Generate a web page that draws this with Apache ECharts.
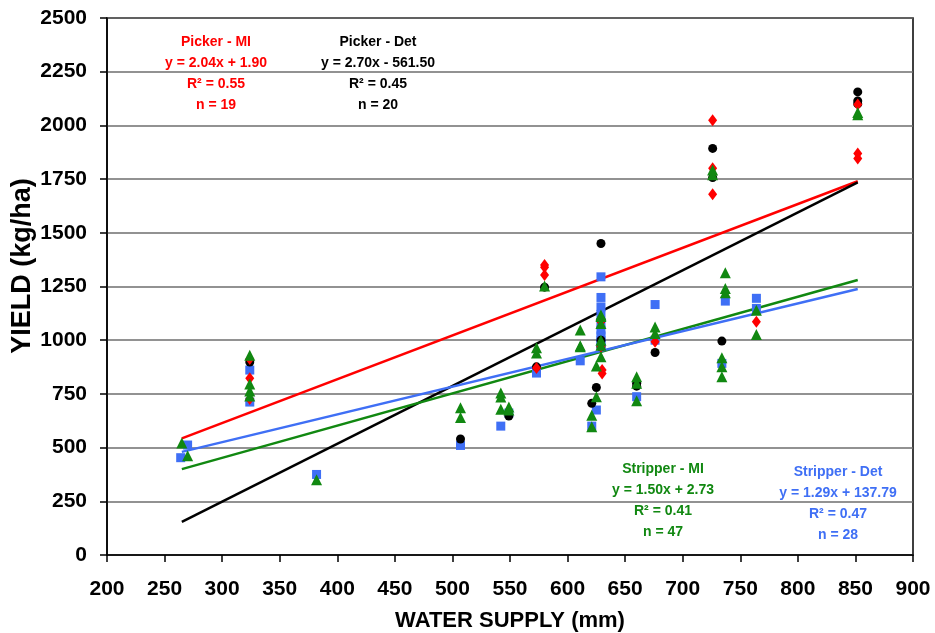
<!DOCTYPE html>
<html>
<head>
<meta charset="utf-8">
<script src="https://cdn.jsdelivr.net/npm/echarts@6/dist/echarts.min.js"></script>
<style>
  html, body { margin: 0; padding: 0; background: #fff; }
  #main { width: 935px; height: 633px; }
</style>
</head>
<body>
<div id="main"></div>
<script>
var chartDom = document.getElementById('main');
var myChart = echarts.init(chartDom);
var option;

var FONT = 'Liberation Sans, Arial, sans-serif';

// [water supply (mm), yield (kg/ha)]
var pickerMI = [
  [324, 912], [324, 823], [324, 726],
  [580, 1350], [580, 1340], [580, 1303],
  [629, 1086], [630, 861], [630, 845],
  [676, 993],
  [726, 2024], [726, 1800], [726, 1680],
  [764, 1086],
  [852, 2097], [852, 1869], [852, 1846],
  [573, 870], [629, 970]
];
var pickerDet = [
  [324, 898], [507, 540], [549, 647], [573, 876], [580, 1247],
  [621, 706], [625, 780], [629, 1450], [629, 1094], [629, 969],
  [660, 786], [676, 943], [726, 1893], [726, 1757], [734, 996],
  [852, 2156], [852, 2114], [852, 2100], [629, 1000], [660, 800]
];
var stripperMI = [
  [265, 521], [270, 462],
  [324, 930], [324, 796], [324, 763], [324, 740],
  [382, 350],
  [507, 686], [507, 640],
  [542, 754], [542, 735], [542, 679],
  [549, 689], [549, 675],
  [573, 965], [573, 940],
  [580, 1252],
  [611, 1047], [611, 974], [611, 969],
  [621, 651], [621, 597],
  [625, 737], [625, 880],
  [629, 1117], [629, 1078], [629, 1110], [629, 1000], [629, 977], [629, 923],
  [660, 830], [660, 799], [660, 718],
  [676, 1062], [676, 1031],
  [726, 1792], [726, 1770],
  [734, 918], [734, 876], [734, 830],
  [737, 1314], [737, 1241], [737, 1221],
  [764, 1140], [764, 1027],
  [852, 2060], [852, 2050]
];
var stripperDet = [
  [264, 453], [270, 512],
  [324, 861], [324, 712],
  [382, 375],
  [507, 510],
  [542, 600],
  [549, 661],
  [573, 847],
  [611, 904],
  [621, 600],
  [625, 675],
  [629, 1295], [629, 1199], [629, 1155], [629, 1120], [629, 1080],
  [629, 1047], [629, 1020], [629, 1000], [629, 980],
  [660, 737],
  [676, 1166], [676, 1000],
  [734, 892],
  [737, 1182],
  [764, 1195], [764, 1148]
];

// trend line end points
var trendPickerMI = [[265, 543], [852, 1740]];
var trendPickerDet = [[265, 154], [852, 1735]];
var trendStripperMI = [[265, 400], [852, 1280]];
var trendStripperDet = [[265, 480], [852, 1238]];

var RED = '#ff0000';
var BLACK = '#000000';
var GREEN = '#118811';
var BLUE = '#3f6ff5';

var pickerMIText = ['Picker - MI', 'y = 2.04x + 1.90', 'R² = 0.55', 'n = 19'];
var pickerDetText = ['Picker - Det', 'y = 2.70x - 561.50', 'R² = 0.45', 'n = 20'];
var stripperMIText = ['Stripper - MI', 'y = 1.50x + 2.73', 'R² = 0.41', 'n = 47'];
var stripperDetText = ['Stripper - Det', 'y = 1.29x + 137.79', 'R² = 0.47', 'n = 28'];

function textBlock(lines, cx, top, color) {
  return {
    type: 'text',
    x: cx,
    y: top,
    style: {
      text: lines.join('\n'),
      fill: color,
      font: 'bold 14px ' + FONT,
      lineHeight: 21,
      align: 'center',
      verticalAlign: 'top'
    },
    z: 100
  };
}

function trend(data, color) {
  return {
    type: 'line',
    data: data,
    symbol: 'none',
    silent: true,
    lineStyle: { color: color, width: 2.5 },
    z: 1
  };
}

function scatter(data, symbol, size, color, z) {
  return {
    type: 'scatter',
    data: data,
    symbol: symbol,
    symbolSize: size,
    itemStyle: { color: color, opacity: 1 },
    z: z
  };
}

option = {
  backgroundColor: '#fff',
  animation: false,
  grid: {
    left: 107,
    right: 22,
    top: 18,
    bottom: 78,
    containLabel: false,
    outerBoundsMode: 'none',
    show: true,
    borderColor: '#000',
    borderWidth: 1.5
  },
  xAxis: {
    type: 'value',
    min: 200,
    max: 900,
    interval: 50,
    name: 'WATER SUPPLY (mm)',
    nameLocation: 'middle',
    nameGap: 55,
    nameTextStyle: { fontFamily: FONT, fontWeight: 'bold', fontSize: 22, color: '#000' },
    axisLine: { show: true, lineStyle: { color: '#000', width: 1.5 } },
    axisTick: { show: true, length: 7, lineStyle: { color: '#000', width: 1.5 } },
    axisLabel: {
      fontFamily: FONT, fontWeight: 'bold', fontSize: 21, color: '#000', margin: 24,
      formatter: function (v) { return String(v); }
    },
    splitLine: { show: false }
  },
  yAxis: {
    type: 'value',
    min: 0,
    max: 2500,
    interval: 250,
    axisLine: { show: true, lineStyle: { color: '#000', width: 1.5 } },
    axisTick: { show: true, length: 7, lineStyle: { color: '#000', width: 1.5 } },
    axisLabel: {
      fontFamily: FONT, fontWeight: 'bold', fontSize: 21, color: '#000', margin: 20,
      formatter: function (v) { return String(v); }
    },
    splitLine: { show: true, lineStyle: { color: '#6e6e6e', width: 1.5 } }
  },
  graphic: [
    {
      type: 'text',
      x: 23,
      y: 266,
      rotation: Math.PI / 2,
      style: {
        text: 'YIELD (kg/ha)',
        fill: '#000',
        font: 'bold 27px ' + FONT,
        align: 'center',
        verticalAlign: 'middle'
      }
    },
    textBlock(pickerMIText, 216, 32, RED),
    textBlock(pickerDetText, 378, 32, BLACK),
    textBlock(stripperMIText, 663, 459, GREEN),
    textBlock(stripperDetText, 838, 462, BLUE)
  ],
  series: [
    trend(trendPickerMI, RED),
    trend(trendPickerDet, BLACK),
    trend(trendStripperMI, GREEN),
    trend(trendStripperDet, BLUE),
    scatter(stripperDet, 'rect', 9, BLUE, 3),
    scatter(pickerDet, 'circle', 9, BLACK, 4),
    scatter(pickerMI, 'diamond', [9, 12], RED, 5),
    scatter(stripperMI, 'triangle', [11, 11], GREEN, 6)
  ]
};

option && myChart.setOption(option);
</script>
</body>
</html>
